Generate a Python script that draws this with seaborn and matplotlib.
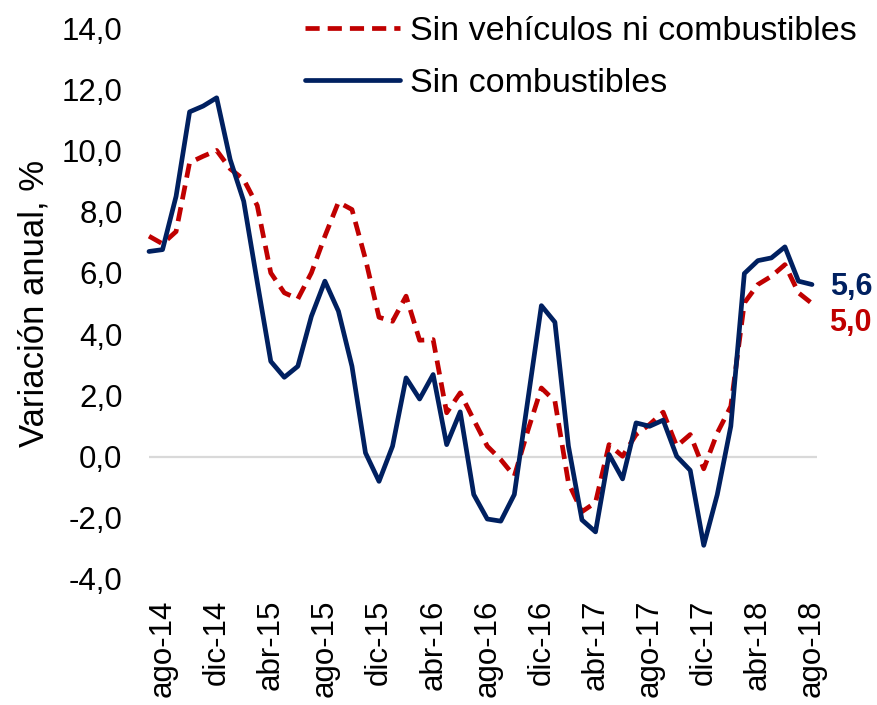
import seaborn as sns
import matplotlib.pyplot as plt
import numpy as np
import pandas as pd

# ---------------- DATA ---------------- #

meses = [
    "jul-14", "ago-14", "sep-14", "oct-14", "nov-14", "dic-14",
    "ene-15", "feb-15", "mar-15", "abr-15", "may-15", "jun-15",
    "jul-15", "ago-15", "sep-15", "oct-15", "nov-15", "dic-15",
    "ene-16", "feb-16", "mar-16", "abr-16", "may-16", "jun-16",
    "jul-16", "ago-16", "sep-16", "oct-16", "nov-16", "dic-16",
    "ene-17", "feb-17", "mar-17", "abr-17", "may-17", "jun-17",
    "jul-17", "ago-17", "sep-17", "oct-17", "nov-17", "dic-17",
    "ene-18", "feb-18", "mar-18", "abr-18", "may-18", "jun-18",
    "jul-18", "ago-18",
]

sin_vehiculos_ni_combustibles = [
    7.2, 6.95, 7.35, 9.6, 9.81, 10.0,
    9.4, 9.05, 8.2, 6.0, 5.35, 5.15,
    6.0, 7.2, 8.31, 8.07, 6.45, 4.55,
    4.42, 5.24, 3.8, 3.82, 1.43, 2.08,
    1.2, 0.34, -0.1, -0.64, 0.85, 2.24,
    1.81, -0.86, -1.8, -1.5, 0.39, 0.01,
    0.72, 1.05, 1.45, 0.34, 0.72, -0.4,
    0.77, 1.64, 5.02, 5.62, 5.89, 6.27,
    5.35, 5.0,
]

sin_combustibles = [
    6.7, 6.76, 8.5, 11.26, 11.45, 11.72,
    9.7, 8.34, 5.7, 3.11, 2.59, 2.95,
    4.58, 5.73, 4.75, 2.95, 0.12, -0.81,
    0.34, 2.57, 1.88, 2.68, 0.39, 1.46,
    -1.24, -2.04, -2.11, -1.24, 1.85, 4.93,
    4.39, 0.34, -2.07, -2.46, 0.07, -0.73,
    1.1, 0.99, 1.19, 0.01, -0.45, -2.9,
    -1.24, 0.99, 5.98, 6.4, 6.49, 6.85,
    5.73, 5.62,
]

etiquetas_y = ["-4,0", "-2,0", "0,0", "2,0", "4,0", "6,0",
               "8,0", "10,0", "12,0", "14,0"]

ROJO = "#C00000"
AZUL = "#002060"

df = pd.DataFrame({
    "idx": np.arange(len(meses)),
    "mes": meses,
    "sin_vehiculos": sin_vehiculos_ni_combustibles,
    "sin_combustibles": sin_combustibles,
})

# ---------------- PLOT ---------------- #

sns.set_style("white")
plt.rcParams["font.family"] = ["Liberation Sans", "DejaVu Sans"]
plt.rcParams["text.color"] = "black"
plt.rcParams["axes.labelcolor"] = "black"
plt.rcParams["xtick.color"] = "black"
plt.rcParams["ytick.color"] = "black"

fig = plt.figure(figsize=(8.77, 7.05), dpi=100)
ax = fig.add_axes([149 / 877, 1 - 579 / 705, (817 - 149) / 877, (579 - 28) / 705])

ax.axhline(0, color="#D9D9D9", lw=1.6, zorder=0)

sns.lineplot(data=df, x="idx", y="sin_vehiculos", ax=ax, color=ROJO, lw=3.4,
             linestyle=(0, (3.0, 1.7)), label="Sin vehículos ni combustibles",
             clip_on=False)
sns.lineplot(data=df, x="idx", y="sin_combustibles", ax=ax, color=AZUL, lw=3.4,
             label="Sin combustibles", clip_on=False)

ax.set_xlim(0, 49.37)
ax.set_ylim(-4, 14)

ax.set_yticks(np.arange(-4, 15, 2))
ax.set_yticklabels(etiquetas_y)
pos = list(range(1, len(meses), 4))
ax.set_xticks(pos)
ax.set_xticklabels([meses[i] for i in pos], rotation=90)
ax.tick_params(axis="y", length=0, pad=19, labelsize=22.5)
ax.tick_params(axis="x", length=0, pad=15, labelsize=22.5)

for s in ax.spines.values():
    s.set_visible(False)

ax.set_xlabel("")
ax.set_ylabel("Variación anual, %", fontsize=25, labelpad=8)

# last values
last = len(meses) - 1
ax.annotate(f"{sin_combustibles[-1]:.1f}".replace(".", ","),
            (last, sin_combustibles[-1]), textcoords="offset points",
            xytext=(13, -2), ha="left", va="center", color=AZUL,
            fontsize=22, fontweight="bold", annotation_clip=False)
ax.annotate(f"{sin_vehiculos_ni_combustibles[-1]:.1f}".replace(".", ","),
            (last, sin_vehiculos_ni_combustibles[-1]), textcoords="offset points",
            xytext=(12, -14), ha="left", va="center", color=ROJO,
            fontsize=22, fontweight="bold", annotation_clip=False)

ax.legend(loc="upper left", bbox_to_anchor=(305 / 877, 1 - 16 / 705),
          bbox_transform=fig.transFigure, frameon=False, fontsize=24.5,
          handlelength=2.8, handletextpad=0.3, labelspacing=0.62,
          borderpad=0, borderaxespad=0)

fig.savefig("out.png", dpi=100)
